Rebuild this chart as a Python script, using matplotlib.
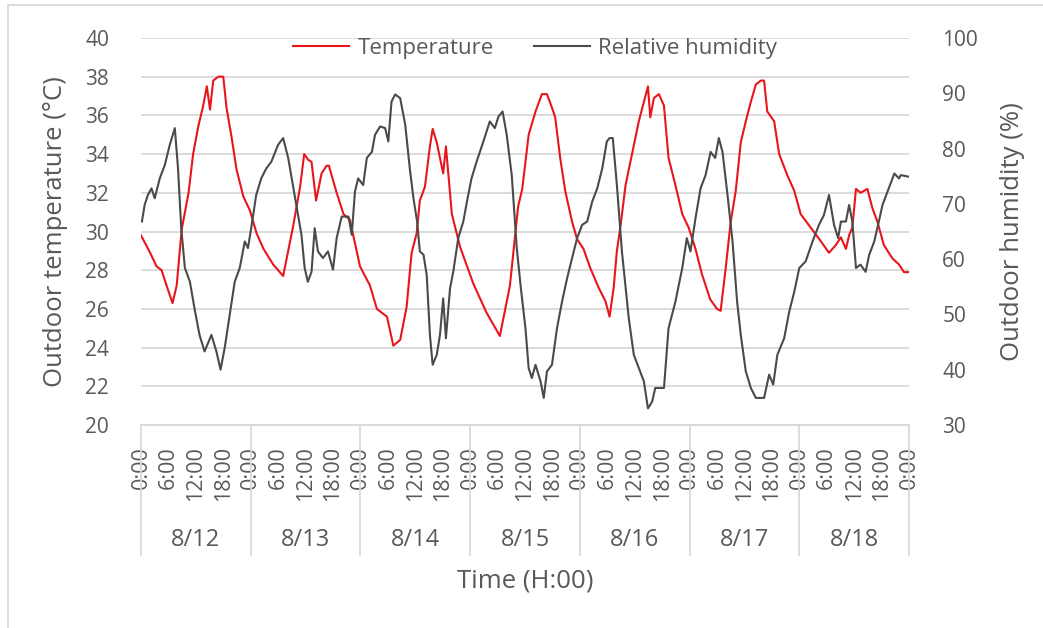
import matplotlib.pyplot as plt
from matplotlib.lines import Line2D
from matplotlib.transforms import blended_transform_factory

# hours since 8/12 0:00, temperature (degC)
temp_h = [0, 2.0, 3.4, 4.5, 5.6, 6.9, 7.8, 8.9, 10.4, 11.4, 12.5, 13.6, 14.4, 15.1, 15.8,
          16.9, 18.0, 18.7, 19.8, 20.9, 22.4, 23.8, 25.3, 26.8, 28.9, 31.1, 33.3, 34.8,
          35.7, 36.6, 37.3, 38.3, 39.5, 40.6, 41.1, 42.8, 44.3, 45.7, 47.9, 50.1, 51.6,
          53.8, 55.2, 56.7, 58.1, 59.2, 60.3, 61.0, 62.1, 63.2, 63.8, 64.7, 66.1, 66.7,
          68.0, 69.8, 72.7, 75.6, 78.5, 80.7, 82.5, 83.4, 84.8, 86.3, 87.7, 88.8, 89.9,
          90.6, 91.7, 92.8, 94.3, 95.4, 96.8, 98.3, 100.1, 101.6, 102.5, 103.4, 104.1,
          104.9, 106.0, 107.4, 108.9, 110.0, 110.9, 111.4, 112.2, 113.3, 114.4, 115.4,
          116.9, 118.4, 119.8, 121.3, 122.7, 124.5, 126.0, 126.8, 127.9, 129.0, 130.1,
          131.2, 132.3, 133.4, 134.5, 135.6, 136.3, 137.0, 138.5, 139.6, 141.4, 142.9,
          144.3, 146.5, 148.7, 150.5, 152.0, 153.1, 154.2, 154.9, 155.6, 156.4, 157.4,
          158.9, 160.0, 161.1, 162.5, 164.4, 165.8, 166.9, 168.0]
temp = [29.8, 28.9, 28.2, 28.0, 27.2, 26.3, 27.2, 30.1, 32.0, 34.0, 35.4, 36.5, 37.5, 36.3,
        37.8, 38.0, 38.0, 36.4, 34.9, 33.2, 31.8, 31.1, 29.9, 29.1, 28.3, 27.7, 30.3, 32.3,
        34.0, 33.7, 33.6, 31.6, 33.0, 33.4, 33.4, 32.0, 30.9, 30.6, 28.2, 27.2, 26.0,
        25.6, 24.1, 24.4, 26.1, 28.9, 29.9, 31.6, 32.3, 34.4, 35.3, 34.6, 33.0, 34.4,
        30.9, 29.2, 27.3, 25.8, 24.6, 27.2, 31.3, 32.2, 35.0, 36.2, 37.1, 37.1, 36.4,
        35.9, 33.8, 32.1, 30.5, 29.6, 29.1, 28.1, 27.1, 26.4, 25.6, 27.1, 29.0,
        30.3, 32.4, 34.0, 35.7, 36.7, 37.5, 35.9, 36.9, 37.1, 36.5, 33.8,
        32.4, 30.9, 30.2, 29.1, 27.8, 26.5, 26.0, 25.9, 28.1, 30.5, 32.1,
        34.6, 35.7, 36.7, 37.6, 37.8, 37.8, 36.2, 35.7, 34.0, 32.9, 32.1,
        30.9, 30.2, 29.5, 28.9, 29.3, 29.7, 29.1, 29.8, 30.2, 32.2, 32.0,
        32.2, 31.2, 30.5, 29.3, 28.6, 28.3, 27.9, 27.9]

# hours since 8/12 0:00, relative humidity (%)
rh_h = [0.2, 0.8, 1.5, 2.3, 3.0, 4.1, 5.2, 6.3, 7.4, 8.1, 8.8, 9.6, 10.7, 11.7, 12.8, 13.9,
        15.4, 16.5, 17.4, 18.3, 19.4, 20.5, 21.6, 22.7, 23.4, 24.1, 25.2, 26.3, 27.4, 28.5,
        30.0, 31.1, 32.2, 33.6, 35.1, 35.8, 36.5, 37.3, 38.0, 38.7, 39.8, 40.9, 42.0, 42.8,
        43.9, 45.4, 46.1, 46.8, 47.5, 48.6, 49.4, 50.5, 51.2, 52.3, 53.4, 54.1, 54.8, 55.6,
        56.7, 57.8, 58.8, 59.6, 60.4, 61.0, 61.8, 62.5, 63.2, 63.8, 64.7, 65.4, 66.1, 66.7,
        67.6, 68.3, 69.4, 70.5, 71.3, 72.3, 73.4, 74.9, 76.3, 77.4, 78.2, 79.1, 80.0, 81.1,
        82.2, 83.1, 84.1, 84.8, 85.5, 86.3, 87.4, 88.1, 88.8, 89.9, 91.0, 92.1, 93.2, 94.3,
        95.4, 96.5, 97.6, 98.7, 99.8, 100.9, 101.9, 102.5, 103.2, 104.1, 105.2, 106.7,
        107.8, 108.9, 110.0, 110.9, 111.8, 112.5, 114.4, 115.4, 116.9, 118.4, 119.4, 120.2,
        121.3, 122.4, 123.5, 124.6, 125.6, 126.4, 127.2, 128.3, 129.4, 130.4, 131.2, 132.3,
        133.4, 134.5, 136.3, 137.4, 138.3, 139.2, 140.7, 141.8, 142.9, 144.0, 145.4, 146.9,
        148.3, 149.4, 150.5, 151.6, 152.5, 153.1, 154.2, 154.9, 155.6, 156.4, 157.4, 158.5,
        159.3, 160.4, 161.4, 162.2, 163.3, 164.8, 165.8, 166.2, 168.0]
rh = [66.8, 69.8, 71.6, 72.8, 71.0, 74.6, 77.0, 80.7, 83.7, 76.4, 65.6, 58.4, 55.9, 51.1, 46.3,
      43.3, 46.3, 43.3, 40.0, 43.9, 49.9, 55.9, 58.4, 63.2, 62.0, 65.6, 71.6, 74.6, 76.4, 77.6,
      80.7, 81.9, 78.3, 71.6, 64.4, 58.4, 55.9, 57.7, 65.6, 61.4, 60.2, 61.4, 58.1, 63.8,
      67.7, 67.7, 64.4, 72.2, 74.6, 73.4, 78.3, 79.4, 82.5, 84.0, 83.7, 81.3, 88.5, 89.8,
      89.1, 84.3, 76.4, 71.0, 66.8, 61.4, 60.8, 57.1, 46.3, 40.9, 42.7, 46.3, 52.9, 45.7,
      54.7, 57.7, 63.8, 66.8, 70.4, 74.6, 77.6, 81.3, 84.9, 83.7, 85.8, 86.7, 82.5, 75.2,
      62.0, 54.7, 47.5, 40.3, 38.5, 40.9, 37.9, 34.9, 39.7, 40.9, 47.5, 52.3, 56.5, 60.2,
      63.8, 66.2, 66.8, 70.4, 72.8, 76.4, 81.3, 81.9, 81.9, 73.4, 61.4, 49.3,
      42.7, 40.3, 37.9, 33.0, 34.2, 36.7, 36.7, 47.5, 52.3, 58.4, 63.8, 61.4,
      67.4, 72.8, 75.2, 79.4, 78.3, 81.9, 79.4, 71.6, 63.2, 52.3, 46.3, 39.7,
      36.7, 34.9, 34.9, 39.1, 37.3, 42.7, 45.7, 50.5, 54.1, 58.4, 59.6, 63.2,
      66.2, 68.0, 71.6, 66.2, 63.8, 66.8, 66.8, 69.8, 66.8, 58.4, 59.0, 57.7,
      60.8, 63.2, 66.8, 69.8, 72.2, 75.5, 74.6, 75.2, 74.9]

days = ['8/12', '8/13', '8/14', '8/15', '8/16', '8/17', '8/18']
hour_labels = ['0:00', '6:00', '12:00', '18:00']

plt.rcParams['font.family'] = ['Open Sans', 'DejaVu Sans']
txt = '#595959'
grid = '#d9d9d9'

fig = plt.figure(figsize=(10.43, 6.28), dpi=100)
ax = fig.add_axes([141/1043, 1 - 425/628, 768/1043, 387/628])
ax2 = ax.twinx()

ax.plot(temp_h, temp, color='#e8151b', lw=1.5, label='Temperature')
ax2.plot(rh_h, rh, color='#4a4a4a', lw=1.5, label='Relative humidity')

ax.set_xlim(0, 24 * len(days))
ax.set_ylim(20, 40)
ax.set_yticks(range(20, 41, 2))
ax2.set_ylim(30, 100)
ax2.set_yticks(range(30, 101, 10))
ax.yaxis.grid(True, color=grid, lw=1.3)
ax.set_axisbelow(True)

for a in (ax, ax2):
    for s in a.spines.values():
        s.set_visible(False)
ax.spines['bottom'].set_visible(True)
ax.spines['bottom'].set_color(grid)
ax.spines['bottom'].set_linewidth(1.3)

xt = [d * 24 + h * 6 for d in range(len(days)) for h in range(4)] + [24 * len(days)]
ax.set_xticks(xt)
ax.set_xticklabels(hour_labels * len(days) + ['0:00'], rotation=90, va='top')
ax.tick_params(axis='x', length=0, pad=15, labelsize=15.5, labelcolor=txt)
ax.tick_params(axis='y', length=0, pad=23, labelsize=15, labelcolor=txt)
ax2.tick_params(axis='y', length=0, pad=24, labelsize=15, labelcolor=txt)

# category boundaries and day labels below the axis
tr = blended_transform_factory(ax.transData, ax.transAxes)
for d in range(len(days) + 1):
    ax.plot([d * 24, d * 24], [0, -0.335], transform=tr, color=grid, lw=1.3, clip_on=False)
for d, lab in enumerate(days):
    ax.text(d * 24 + 12, -0.297, lab, transform=tr, ha='center', va='center',
            fontsize=17, color=txt)

ax.set_xlabel('Time (H:00)', fontsize=18.5, color=txt)
ax.xaxis.set_label_coords(0.5, -0.37)
ax.set_ylabel('Outdoor temperature (°C)', fontsize=18.5, color=txt)
ax.yaxis.set_label_coords(-0.095, 0.5)
ax2.set_ylabel('Outdoor humidity (%)', fontsize=18.5, color=txt)
ax2.yaxis.set_label_coords(1.118, 0.5)

h1, l1 = ax.get_legend_handles_labels()
h2, l2 = ax2.get_legend_handles_labels()
ax.legend(h1 + h2, l1 + l2, ncol=2, frameon=False, loc='center',
          bbox_to_anchor=(0.513, 0.974), fontsize=16, handlelength=2.55,
          handletextpad=0.36, columnspacing=1.8, labelcolor=txt)

# chart area border
fig.add_artist(Line2D([8/1043, 8/1043], [0, 1 - 5/628], color=grid, lw=1.3))
fig.add_artist(Line2D([8/1043, 1], [1 - 5/628, 1 - 5/628], color=grid, lw=1.3))

fig.savefig('out.png', dpi=100)
